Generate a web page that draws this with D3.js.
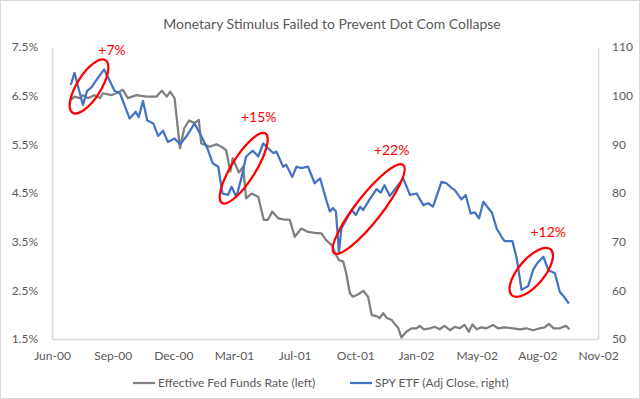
<!DOCTYPE html>
<html>
<head>
<meta charset="utf-8">
<script src="https://cdn.jsdelivr.net/npm/d3@7"></script>
<style>
  body { margin: 0; background: #fff; }
  svg text { font-family: Lato, "Open Sans", sans-serif; fill: #595959; }
</style>
</head>
<body>
<div id="chart"></div>
<script>
// weekly readings, SPY adjusted close (right axis)
const spyDates = ["2000-07-02","2000-07-08","2000-07-22","2000-07-29","2000-08-05","2000-08-13","2000-08-26","2000-09-01","2000-09-12","2000-09-21",
  "2000-10-07","2000-10-17","2000-10-22","2000-10-29","2000-11-05","2000-11-15","2000-11-23","2000-12-01","2000-12-09","2000-12-20",
  "2000-12-29","2001-01-09","2001-01-22","2001-02-02","2001-02-12","2001-02-21","2001-03-02","2001-03-09","2001-03-18","2001-03-24",
  "2001-04-01","2001-04-09","2001-04-17","2001-04-28","2001-05-07","2001-05-15","2001-05-23","2001-06-01","2001-06-06","2001-06-17",
  "2001-06-22","2001-07-02","2001-07-09","2001-07-17","2001-07-28","2001-08-08","2001-08-17","2001-08-27","2001-09-02","2001-09-07",
  "2001-09-12","2001-09-17","2001-09-21","2001-09-29","2001-10-08","2001-10-15","2001-10-22","2001-10-27","2001-11-06","2001-11-18",
  "2001-11-25","2001-12-01","2001-12-10","2001-12-21","2002-01-01","2002-01-12","2002-01-23","2002-02-03","2002-02-11","2002-02-19",
  "2002-03-05","2002-03-13","2002-03-22","2002-03-27","2002-04-07","2002-04-14","2002-04-22","2002-04-29","2002-05-06","2002-05-13",
  "2002-05-21","2002-05-27","2002-06-04","2002-06-12","2002-06-17","2002-06-30","2002-07-07","2002-07-15","2002-07-26","2002-08-03",
  "2002-08-10","2002-08-20","2002-08-28","2002-09-08","2002-09-16","2002-09-21","2002-10-01"];
const spyClose = [102.2,104.7,98.1,101.0,101.7,103.2,105.4,103.9,101.0,100.5,
  95.3,96.7,95.6,98.9,94.9,94.3,91.7,92.8,90.5,91.2,
  90.0,91.7,94.3,91.7,89.2,86.1,85.4,79.9,79.6,81.3,
  79.2,83.0,87.5,88.7,87.5,90.2,89.2,88.2,88.5,85.4,
  85.8,83.3,85.4,85.1,85.4,82.0,83.0,78.6,76.2,76.9,
  76.2,67.9,72.7,74.5,76.5,75.5,77.2,76.5,78.6,80.8,
  80.1,81.6,79.4,81.2,83.0,79.6,79.9,77.5,77.9,77.2,
  82.3,82.0,81.0,80.6,78.7,79.6,75.8,76.0,74.8,78.2,
  76.9,76.0,72.7,71.0,70.1,70.1,66.6,60.1,60.9,64.2,
  65.6,66.9,64.2,63.5,59.7,59.0,57.3];

// effective fed funds rate, % (left axis)
const fedDates = ["2000-07-02","2000-07-08","2000-07-17","2000-07-22","2000-07-30","2000-08-10","2000-08-19","2000-08-24","2000-09-07","2000-09-15",
  "2000-09-26","2000-10-04","2000-10-18","2000-11-04","2000-11-20","2000-11-29","2000-12-07","2000-12-13","2000-12-20","2000-12-29",
  "2001-01-05","2001-01-13","2001-01-22","2001-01-29","2001-02-02","2001-02-16","2001-02-27","2001-03-07","2001-03-15","2001-03-22",
  "2001-03-26","2001-04-05","2001-04-12","2001-04-17","2001-04-26","2001-05-07","2001-05-16","2001-05-23","2001-05-30","2001-06-09",
  "2001-06-17","2001-06-28","2001-07-06","2001-07-17","2001-07-28","2001-08-08","2001-08-19","2001-08-27","2001-09-05","2001-09-12",
  "2001-09-17","2001-09-24","2001-09-29","2001-10-05","2001-10-10","2001-10-19","2001-10-27","2001-11-04","2001-11-10","2001-11-18",
  "2001-11-23","2001-11-29","2001-12-05","2001-12-13","2001-12-18","2001-12-24","2001-12-29","2002-01-06","2002-01-15","2002-01-23",
  "2002-01-28","2002-02-04","2002-02-14","2002-02-22","2002-03-02","2002-03-10","2002-03-19","2002-03-27","2002-04-04","2002-04-12",
  "2002-04-19","2002-04-25","2002-05-02","2002-05-10","2002-05-18","2002-05-29","2002-06-06","2002-06-17","2002-07-01","2002-07-12",
  "2002-07-23","2002-08-03","2002-08-14","2002-08-22","2002-08-29","2002-09-06","2002-09-16","2002-09-26","2002-10-02"];
const fedRate = [6.41,6.48,6.45,6.51,6.45,6.51,6.45,6.55,6.51,6.55,
  6.62,6.45,6.51,6.48,6.48,6.60,6.48,6.58,6.45,5.42,
  5.83,5.99,5.94,6.00,5.52,5.45,5.50,5.45,5.38,4.94,
  5.21,4.92,5.04,4.39,4.49,4.42,3.95,3.95,4.12,3.98,
  3.96,3.95,3.60,3.77,3.70,3.68,3.67,3.53,3.43,3.23,
  3.12,3.09,2.85,2.44,2.37,2.42,2.49,2.37,1.99,1.97,
  1.93,2.03,1.93,1.89,1.81,1.72,1.53,1.65,1.72,1.72,
  1.77,1.70,1.72,1.75,1.70,1.77,1.68,1.75,1.72,1.79,
  1.65,1.80,1.70,1.74,1.72,1.79,1.72,1.74,1.72,1.70,
  1.72,1.68,1.72,1.74,1.81,1.72,1.72,1.77,1.70];

const xTicks = ["2000-06-01","2000-09-09","2000-12-18","2001-03-28","2001-07-06","2001-10-14","2002-01-22","2002-05-02","2002-08-10","2002-11-18"];
const leftTicks = [1.5, 2.5, 3.5, 4.5, 5.5, 6.5, 7.5];
const rightTicks = [50, 60, 70, 80, 90, 100, 110];

// rally call-outs, centred on the SPY line
const annoLabels = ["+7%", "+15%", "+22%", "+12%"];
const annoDates = ["2000-08-01", "2001-04-13", "2001-11-05", "2002-07-31"];
const annoValues = [101.9, 85.1, 76.7, 63.7];

const title = "Monetary Stimulus Failed to Prevent Dot Com Collapse";
const seriesNames = ["Effective Fed Funds Rate (left)", "SPY ETF (Adj Close, right)"];
const colors = ["#7f7f7f", "#4472c4"];

const W = 640, H = 399;
const margin = { top: 47, right: 42, bottom: 60, left: 52 };
const width = W - margin.left - margin.right;
const height = H - margin.top - margin.bottom;
const parse = d3.timeParse("%Y-%m-%d");

const svg = d3.select("#chart").append("svg")
  .attr("width", W)
  .attr("height", H);

svg.append("rect")
  .attr("x", 0.5).attr("y", 0.5)
  .attr("width", W - 1).attr("height", H - 1)
  .attr("fill", "#fff")
  .attr("stroke", "#d9d9d9");

svg.append("text")
  .attr("x", 332).attr("y", 29)
  .attr("text-anchor", "middle")
  .style("font-size", "14px")
  .text(title);

const g = svg.append("g").attr("transform", `translate(${margin.left},${margin.top})`);

const xScale = d3.scaleTime().domain([parse(xTicks[0]), parse(xTicks[xTicks.length - 1])]).range([0, width]);
const yLeft = d3.scaleLinear().domain([1.5, 7.5]).range([height, 0]);
const yRight = d3.scaleLinear().domain([50, 110]).range([height, 0]);

const axisColor = "#d9d9d9";

const xAxis = g.append("g")
  .attr("transform", `translate(0,${height})`)
  .call(d3.axisBottom(xScale).tickValues(xTicks.map(parse)).tickFormat(d3.timeFormat("%b-%y")).tickSize(0).tickPadding(12));
const lAxis = g.append("g")
  .call(d3.axisLeft(yLeft).tickValues(leftTicks).tickFormat(d => d.toFixed(1) + "%").tickSize(0).tickPadding(14));
const rAxis = g.append("g")
  .attr("transform", `translate(${width},0)`)
  .call(d3.axisRight(yRight).tickValues(rightTicks).tickSize(0).tickPadding(14));

[xAxis, lAxis, rAxis].forEach(a => {
  a.select(".domain").attr("stroke", axisColor).attr("stroke-width", 1.5);
  a.selectAll("text").style("font-size", "12px").attr("fill", "#595959");
});

const fedLine = d3.line()
  .x((d, i) => xScale(parse(fedDates[i])))
  .y(d => yLeft(d));
const spyLine = d3.line()
  .x((d, i) => xScale(parse(spyDates[i])))
  .y(d => yRight(d));

g.append("path")
  .attr("d", fedLine(fedRate))
  .attr("fill", "none")
  .attr("stroke", colors[0])
  .attr("stroke-width", 2.25)
  .attr("stroke-linejoin", "round");

g.append("path")
  .attr("d", spyLine(spyClose))
  .attr("fill", "none")
  .attr("stroke", colors[1])
  .attr("stroke-width", 2.25)
  .attr("stroke-linejoin", "round");

// ellipse sizes/tilt and label offsets, px
const annoShape = [
  { rx: 31, ry: 12, rot: -58, dx: 23, dy: -31 },
  { rx: 41, ry: 12, rot: -58, dx: 15, dy: -46 },
  { rx: 56, ry: 13, rot: -52, dx: 23, dy: -54 },
  { rx: 30, ry: 13, rot: -50, dx: 17, dy: -35 }
];

annoLabels.forEach((label, i) => {
  const cx = xScale(parse(annoDates[i]));
  const cy = yRight(annoValues[i]);
  const s = annoShape[i];
  g.append("ellipse")
    .attr("transform", `translate(${cx},${cy}) rotate(${s.rot})`)
    .attr("rx", s.rx).attr("ry", s.ry)
    .attr("fill", "none")
    .attr("stroke", "#ff0000")
    .attr("stroke-width", 2.25);
  g.append("text")
    .attr("x", cx + s.dx).attr("y", cy + s.dy)
    .attr("text-anchor", "middle")
    .style("font-size", "14px")
    .style("fill", "#ff0000")
    .text(label);
});

// legend
const legendX = [133, 350];
const legend = svg.selectAll(".legend")
  .data(seriesNames)
  .enter().append("g")
  .attr("class", "legend")
  .attr("transform", (d, i) => `translate(${legendX[i]},383)`);

legend.append("line")
  .attr("x1", 0).attr("x2", 22)
  .attr("stroke", (d, i) => colors[i])
  .attr("stroke-width", 2.25);

legend.append("text")
  .attr("x", 25).attr("y", 4)
  .style("font-size", "12px")
  .text(d => d);
</script>
</body>
</html>
